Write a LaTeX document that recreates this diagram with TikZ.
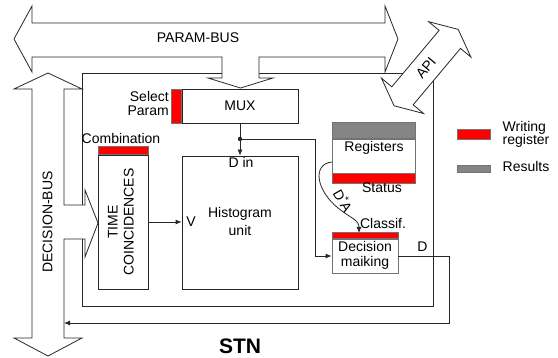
\documentclass[tikz,border=0pt]{standalone}
\usepackage{fontspec}
\setmainfont{Liberation Sans}
\usetikzlibrary{arrows.meta,calc}
\begin{document}
\begin{tikzpicture}[x=1pt,y=-1pt,
  font=\fontsize{14}{16}\selectfont,
  ln/.style={draw=black!85, line width=0.8pt},
  box/.style={draw=black!85, fill=white, inner sep=0pt, line width=0.8pt},
  greybox/.style={draw=black!55, fill=white, inner sep=0pt, line width=0.8pt},
  wreg/.style={draw=black!55, fill=red, inner sep=0pt, line width=0.6pt},
  resbar/.style={draw=black!55, fill=black!48, inner sep=0pt, line width=0.6pt},
  bus/.style={draw=black!85, fill=white, line width=0.8pt, line join=miter},
  arr/.style={-{Latex[length=6pt,width=5pt]}},
  lbl/.style={inner sep=0pt, anchor=base},
]
\useasboundingbox (0,0) rectangle (558,358);

% STN frame
\node[box, minimum width=351pt, minimum height=233pt] (stn) at (257.5,189.5) {};

% PARAM-BUS with its branch down to the multiplexer
\draw[bus] (14,39) -- (32,6) -- (32,23) -- (385,23) -- (385,6) -- (398,39)
  -- (385,72) -- (385,57) -- (259,57) -- (259,78) -- (273,78) -- (240.5,88)
  -- (208,78) -- (222,78) -- (222,57) -- (32,57) -- (32,72) -- cycle;

% DECISION-BUS with its branch into the coincidence unit
\draw[bus] (48,73) -- (82,89) -- (64,89) -- (64,205) -- (85,205) -- (85,190)
  -- (98,223) -- (85,257) -- (85,239) -- (64,239) -- (64,338) -- (82,338)
  -- (48,356) -- (14,338) -- (32,338) -- (32,89) -- (14,89) -- cycle;

% API double arrow
\draw[bus] (394.1,105.8) -- (381.4,78.1) -- (391.8,86.8) -- (439.1,30.4)
  -- (428.7,21.7) -- (458.2,29.4) -- (470.9,57.1) -- (460.5,48.4)
  -- (413.2,104.8) -- (423.6,113.5) -- cycle;

% Functional blocks
\node[box, minimum width=116pt, minimum height=34pt] (mux) at (240,106) {MUX};
\node[wreg, minimum width=10pt, minimum height=34pt, anchor=east] (muxbar) at (mux.west) {};

\node[box, minimum width=116pt, minimum height=133pt] (hist) at (240,222.5) {};

\node[box, minimum width=50pt, minimum height=134pt] (timec) at (123,222) {};
\node[wreg, minimum width=50pt, minimum height=8pt, anchor=south] (timebar) at (timec.north) {};

\node[greybox, minimum width=83pt, minimum height=34pt] (regs) at (373.5,156) {};
\node[resbar, minimum width=83pt, minimum height=16pt, anchor=south] (regres) at (regs.north) {};
\node[wreg, minimum width=83pt, minimum height=10pt, anchor=north] (regst) at (regs.south) {};

\node[greybox, minimum width=66pt, minimum height=34pt] (dec) at (365,256) {};
\node[wreg, minimum width=66pt, minimum height=6pt, anchor=south] (decbar) at (dec.north) {};

% Connectors
\coordinate (j) at (240,139);
\coordinate (da) at (332,162);
\coordinate (dain) at (359,233);
\coordinate (fb) at (64,323);
\draw[ln] (mux.south) -- (j);
\draw[ln, arr] (j) -- (hist.north);
\fill[black!85] (j) circle (2.2pt);
\draw[ln, arr] (j) -- (315,139) -- (315,256) -- (dec.west);
\draw[ln, arr] (timec.east) -- (timec.east -| hist.west);
\draw[ln, arr] (da) .. controls (312,164) and (316,190) .. (338,208)
  .. controls (352,219) and (359,220) .. (dain);
\draw[ln, arr] (dec.east) -- (449,256) -- (449,323) -- (fb);

% Texts
\node[lbl] (pbt) at (198,43) {PARAM-BUS};
\node[rotate=90, inner sep=0pt] (dbt) at (47.5,222) {DECISION-BUS};
\node[rotate=50, inner sep=0pt] (apit) at (426,67.6) {API};
\node[lbl, anchor=base east] (sel1) at (169,102) {Select};
\node[lbl, anchor=base east] (sel2) at (169,115.5) {Param};
\node[lbl] (comb) at (121,143.5) {Combination};
\node[rotate=90, align=center, inner sep=0pt] (timet) at (121,222) {TIME\\COINCIDENCES};
\node[lbl] (din) at (241,168) {D in};
\node[lbl] (vin) at (191,226.5) {V};
\node[lbl] (hist1) at (240,218) {Histogram};
\node[lbl] (hist2) at (240,236) {unit};
\node[lbl] (regt) at (374,151.7) {Registers};
\node[lbl] (stat) at (382,193) {Status};
\node[rotate=-60, inner sep=0pt] (dat) at (343.5,200.5) {D\textsuperscript{*}A};
\node[lbl] (clas) at (383,229) {Classif.};
\node[lbl] (dec1) at (365,252) {Decision};
\node[lbl] (dec2) at (365,267) {maiking};
\node[lbl] (dout) at (422.5,251.7) {D};

% Legend
\node[wreg, minimum width=33pt, minimum height=10pt] (lgw) at (473.5,134) {};
\node[resbar, minimum width=33pt, minimum height=7pt] (lgr) at (473.5,168.5) {};
\node[lbl, anchor=base west] (lgw1) at (502.5,132) {Writing};
\node[lbl, anchor=base west] (lgw2) at (502.5,145) {register};
\node[lbl, anchor=base west] (lgr1) at (502.5,171.7) {Results};

\node[lbl, font=\fontsize{21}{24}\selectfont\bfseries] (stnt) at (240,354) {STN};
\end{tikzpicture}
\end{document}
